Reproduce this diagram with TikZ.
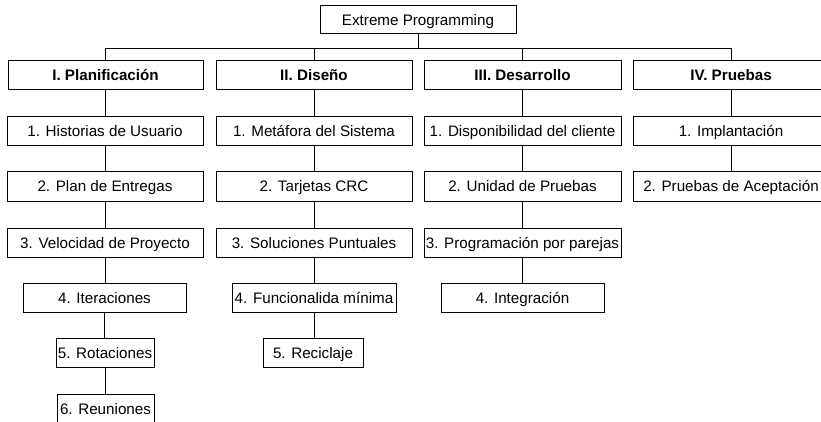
\documentclass[tikz,border=0pt]{standalone}
\usepackage{fontspec}
\setmainfont{Liberation Sans}
\begin{document}
\begin{tikzpicture}[x=1pt,y=-1pt,
  box/.style={draw=black,line width=1pt,fill=white,inner sep=0pt,minimum height=29pt,text height=12pt,text depth=1pt,font=\fontsize{15.2}{18}\selectfont},
  head/.style={box,font=\fontsize{15.2}{18}\selectfont\bfseries},
  link/.style={draw=black,line width=1pt}]
\useasboundingbox (0,0) rectangle (821,422);
\clip (0,0) rectangle (821,422);
% root
\node[box,minimum width=196pt,minimum height=28pt] (root) at (418,20) {Extreme Programming};
% level 1
\node[head,minimum width=195pt] (p1) at (105.5,75.5) {I. Planificación};
\node[head,minimum width=196pt] (p2) at (314,75.5) {II. Diseño};
\node[head,minimum width=197pt] (p3) at (522.5,75.5) {III. Desarrollo};
\node[head,minimum width=196pt] (p4) at (731,75.5) {IV. Pruebas};
% column I
\node[box,minimum width=196pt] (a1) at (105,131) {1. Historias de Usuario};
\node[box,minimum width=196pt] (a2) at (105,186.5) {2. Plan de Entregas};
\node[box,minimum width=196pt] (a3) at (105,242.5) {3. Velocidad de Proyecto};
\node[box,minimum width=163pt] (a4) at (104.5,297.5) {4. Iteraciones};
\node[box,minimum width=98pt] (a5) at (105,353) {5. Rotaciones};
\node[box,minimum width=97pt] (a6) at (105.5,408.5) {6. Reuniones};
% column II
\node[box,minimum width=196pt] (b1) at (314,131) {1. Metáfora del Sistema};
\node[box,minimum width=196pt] (b2) at (314,186.5) {2. Tarjetas CRC};
\node[box,minimum width=196pt] (b3) at (314,242.5) {3. Soluciones Puntuales};
\node[box,minimum width=164pt] (b4) at (314,297.5) {4. Funcionalida mínima};
\node[box,minimum width=100pt] (b5) at (313,353) {5. Reciclaje};
% column III
\node[box,minimum width=197pt] (c1) at (522.5,131) {1. Disponibilidad del cliente};
\node[box,minimum width=197pt] (c2) at (522.5,186.5) {2. Unidad de Pruebas};
\node[box,minimum width=197pt] (c3) at (522.5,242.5) {3. Programación por parejas};
\node[box,minimum width=163pt] (c4) at (522.5,297.5) {4. Integración};
% column IV
\node[box,minimum width=196pt] (d1) at (731,131) {1. Implantación};
\node[box,minimum width=196pt] (d2) at (731,186.5) {2. Pruebas de Aceptación};
% connectors
\foreach \p in {p1,p2,p3,p4}
  \draw[link] (root.south) -- ++(0,14) -| (\p.north);
\foreach \u/\v in {p1/a1,a1/a2,a2/a3,a3/a4,a4/a5,a5/a6,
                   p2/b1,b1/b2,b2/b3,b3/b4,b4/b5,
                   p3/c1,c1/c2,c2/c3,c3/c4,
                   p4/d1,d1/d2}
  \draw[link] (\u.south) -- (\u.south |- \v.north);
\end{tikzpicture}
\end{document}
